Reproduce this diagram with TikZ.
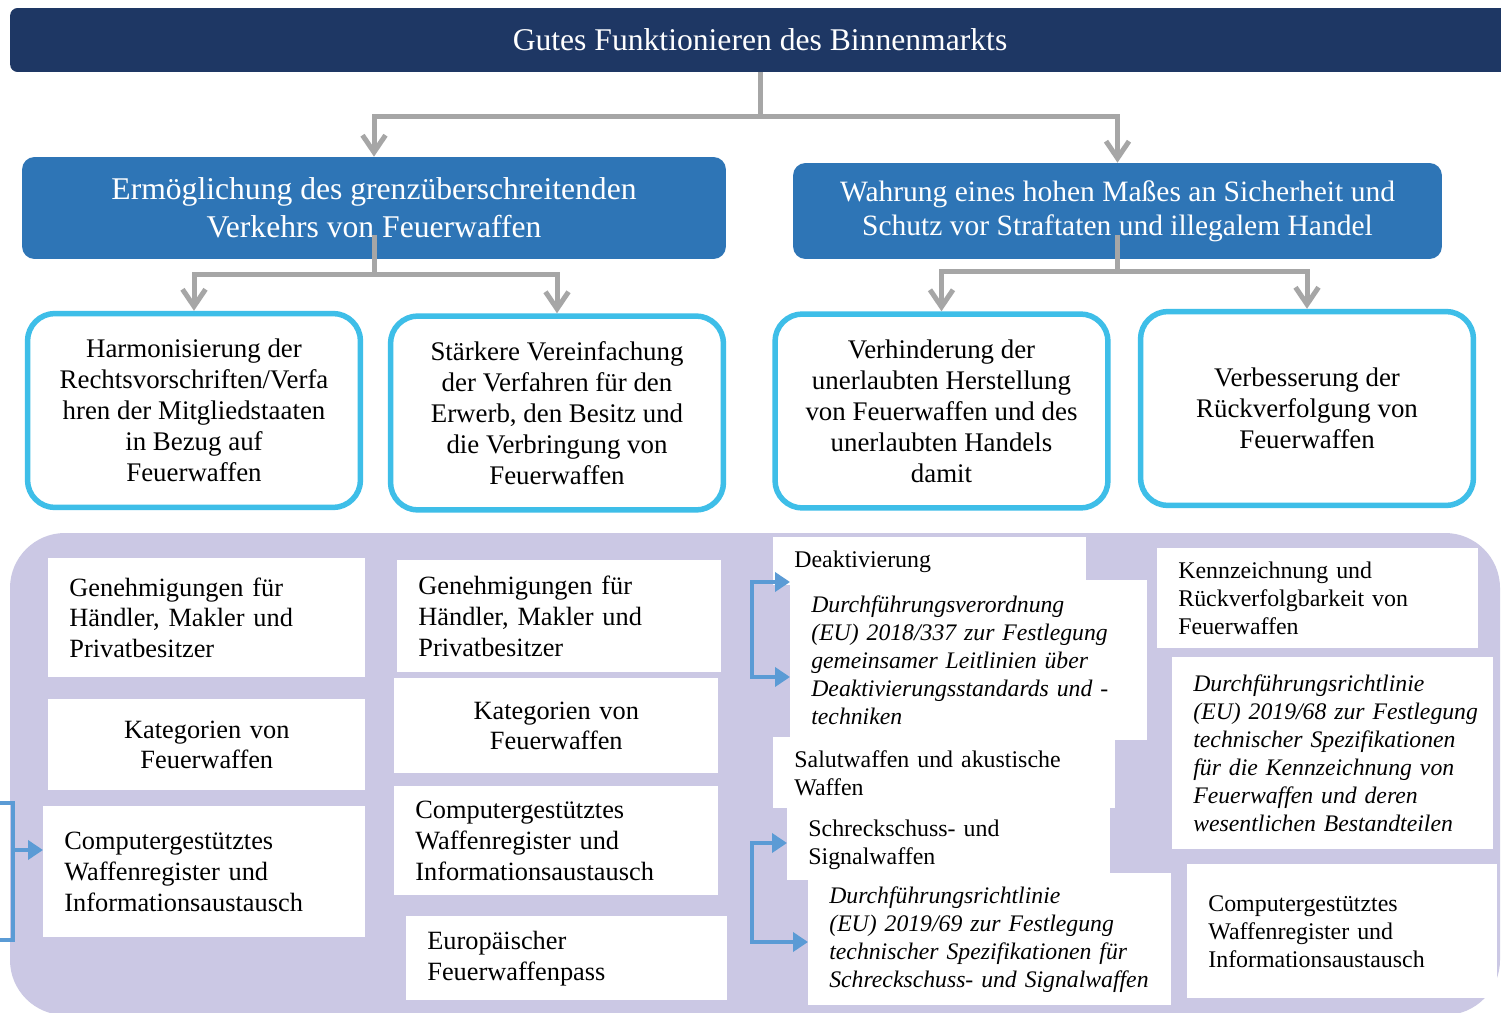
\documentclass[tikz,border=0pt]{standalone}
\usepackage{fontspec}
\setmainfont{Liberation Serif}
\usepackage{xcolor}
\usepackage{tikz}
\usetikzlibrary{arrows.meta, positioning, calc}
\definecolor{navy}{RGB}{30,55,100}
\definecolor{midblue}{RGB}{46,117,182}
\definecolor{cyanline}{RGB}{62,190,232}
\definecolor{lavender}{RGB}{203,200,228}
\definecolor{connect}{RGB}{166,166,166}
\definecolor{linkblue}{RGB}{91,155,213}
\tikzset{
  wbox/.style={fill=white, inner xsep=0.42cm, inner ysep=0pt, anchor=north west,
    align=left, font=\fontsize{15}{17.5}\selectfont,
    execute at begin node={\hyphenpenalty=10000}},
  sbox/.style={wbox, font=\fontsize{13.6}{16}\selectfont},
  ibox/.style={wbox, font=\fontsize{13.5}{16}\selectfont\itshape},
  aim/.style={fill=midblue, rounded corners=0.25cm, text=white, align=center,
    font=\fontsize{18}{21.5}\selectfont},
  goal/.style={draw=cyanline, line width=0.11cm, fill=white, rounded corners=0.55cm,
    align=center, minimum width=6.66cm, minimum height=3.88cm,
    font=\fontsize{15.3}{17.6}\selectfont},
}
\tikzstyle{conn} = [draw=connect, line width=0.1cm, -{Straight Barb[length=0.34cm, width=0.46cm]}]
\tikzstyle{link} = [draw=linkblue, line width=0.08cm, -{Triangle[length=0.3cm, width=0.38cm]}]

\begin{document}
\begin{tikzpicture}[x=0.02cm, y=-0.02cm]
  \useasboundingbox (0,0) rectangle (1501,1013);
  \fill[white] (0,0) rectangle (1501,1013);
  % top level
  \node[fill=navy, rounded corners=0.15cm, text=white, minimum width=30cm, minimum height=1.28cm,
    font=\fontsize{18}{21.5}\selectfont] (market) at (760,40) {Gutes Funktionieren des Binnenmarkts};
  % objectives
  \node[aim, minimum width=14.08cm, minimum height=2.04cm] (traffic) at (374,208)
    {Ermöglichung des grenzüberschreitenden\\Verkehrs von Feuerwaffen};
  \node[aim, minimum width=12.98cm, minimum height=1.92cm, font=\fontsize{16.8}{19.5}\selectfont]
    (safety) at (1117.5,211)
    {Wahrung eines hohen Maßes an Sicherheit und\\Schutz vor Straftaten und illegalem Handel};
  % sub objectives
  \node[goal] (harmon) at (194,410.5)
    {Harmonisierung der\\Rechtsvorschriften/Verfa\\hren der Mitgliedstaaten\\in Bezug auf\\Feuerwaffen};
  \node[goal] (simplify) at (557,413)
    {Stärkere Vereinfachung\\der Verfahren für den\\Erwerb, den Besitz und\\die Verbringung von\\Feuerwaffen};
  \node[goal] (prevent) at (941.5,411)
    {Verhinderung der\\unerlaubten Herstellung\\von Feuerwaffen und des\\unerlaubten Handels\\damit};
  \node[goal] (trace) at (1307,408.5)
    {Verbesserung der\\Rückverfolgung von\\Feuerwaffen};
  \draw[conn] (market.south) -- ++(0,44) -| (traffic.north);
  \draw[conn] (market.south) -- ++(0,44) -| (safety.north);
  \draw[conn] (traffic.center) ++(0,27) -- ++(0,40) -| (harmon.north);
  \draw[conn] (traffic.center) ++(0,27) -- ++(0,40) -| (simplify.north);
  \draw[conn] (safety.center) ++(0,24) -- ++(0,37) -| (prevent.north);
  \draw[conn] (safety.center) ++(0,24) -- ++(0,37) -| (trace.north);
  % measures
  \fill[lavender, rounded corners=1.1cm] (10,533) rectangle (1500,1015);
  \node[wbox, text width=5.50cm, minimum height=2.38cm] (licA) at (48,558)
    {Genehmigungen für\\Händler, Makler und\\Privatbesitzer};
  \node[wbox, align=center, text width=5.50cm, minimum height=1.82cm] (catA) at (48,699)
    {Kategorien von\\Feuerwaffen};
  \node[wbox, text width=5.60cm, minimum height=2.62cm] (regA) at (43,806)
    {Computergestütztes\\Waffenregister und\\Informationsaustausch};
  \node[wbox, text width=5.64cm, minimum height=2.24cm] (licB) at (397,560)
    {Genehmigungen für\\Händler, Makler und\\Privatbesitzer};
  \node[wbox, align=center, text width=5.64cm, minimum height=1.90cm] (catB) at (394,678)
    {Kategorien von\\Feuerwaffen};
  \node[wbox, text width=5.64cm, minimum height=2.18cm] (regB) at (394,786)
    {Computergestütztes\\Waffenregister und\\Informationsaustausch};
  \node[wbox, text width=5.58cm, minimum height=1.68cm] (passB) at (406,916)
    {Europäischer\\Feuerwaffenpass};
  \node[sbox, text width=5.42cm, minimum height=0.96cm] (deact) at (773,537) {Deaktivierung};
  \node[ibox, text width=6.30cm, minimum height=3.20cm] (deactReg) at (790,580)
    {Durchführungsverordnung\\(EU) 2018/337 zur Festlegung\\gemeinsamer Leitlinien über\\Deaktivierungsstandards und -\\techniken};
  \node[sbox, text width=6.00cm, minimum height=1.42cm] (salute) at (773,737)
    {Salutwaffen und akustische\\Waffen};
  \node[sbox, text width=5.62cm, minimum height=1.44cm] (alarm) at (787,808)
    {Schreckschuss- und\\Signalwaffen};
  \node[ibox, text width=6.42cm, minimum height=2.64cm] (alarmDir) at (808,873)
    {Durchführungsrichtlinie\\(EU) 2019/69 zur Festlegung\\technischer Spezifikationen für\\Schreckschuss- und Signalwaffen};
  \node[sbox, text width=5.58cm, minimum height=2.00cm] (marking) at (1157,548)
    {Kennzeichnung und\\Rückverfolgbarkeit von\\Feuerwaffen};
  \node[ibox, text width=5.58cm, minimum height=3.84cm] (markDir) at (1172,657)
    {Durchführungsrichtlinie\\\mbox{(EU) 2019/68 zur Festlegung}\\technischer Spezifikationen\\für die Kennzeichnung von\\Feuerwaffen und deren\\wesentlichen Bestandteilen};
  \node[sbox, text width=5.36cm, minimum height=2.68cm] (regC) at (1187,864)
    {Computergestütztes\\Waffenregister und\\Informationsaustausch};
  % blue links
  \coordinate (regOutTop) at (-20,803);
  \coordinate (regTop) at (13,803);
  \coordinate (regMid) at (13,850);
  \coordinate (regBot) at (13,940);
  \coordinate (regOutBot) at (-20,940);
  \draw[link, -] (regOutTop) -- (regTop) -- (regBot) -- (regOutBot);
  \draw[link] (regMid) -- (regMid -| regA.west);
  \coordinate (deactTop) at (752,582);
  \coordinate (deactBot) at (752,677);
  \draw[link, {Triangle[length=0.3cm, width=0.38cm]}-{Triangle[length=0.3cm, width=0.38cm]}]
    (deactTop -| deactReg.west) -- (deactTop) -- (deactBot) -- (deactBot -| deactReg.west);
  \coordinate (alarmTop) at (752,843);
  \coordinate (alarmBot) at (752,942);
  \draw[link, {Triangle[length=0.3cm, width=0.38cm]}-{Triangle[length=0.3cm, width=0.38cm]}]
    (alarmTop -| alarm.west) -- (alarmTop) -- (alarmBot) -- (alarmBot -| alarmDir.west);
\end{tikzpicture}
\end{document}
